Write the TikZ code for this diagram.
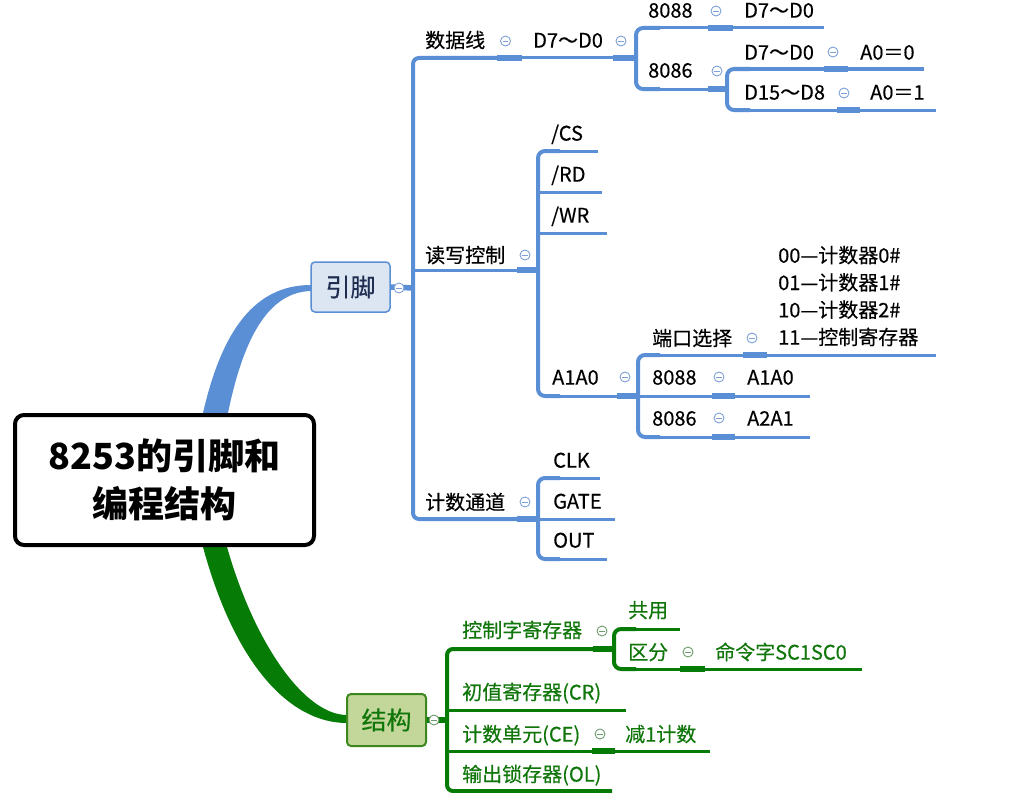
\documentclass[tikz,border=0pt]{standalone}
\usepackage{fontspec}
\newfontfamily\cjk{Noto Sans CJK SC}[FakeBold=0.35]
\newfontfamily\cjkroot{Noto Sans CJK SC}
\definecolor{bl}{RGB}{91,143,213}
\definecolor{btnb}{RGB}{125,160,215}
\definecolor{gr}{RGB}{6,124,6}
\definecolor{grtxt}{RGB}{16,118,10}
\definecolor{btng}{RGB}{110,155,110}
\definecolor{yinfill}{RGB}{220,230,243}
\definecolor{jiefill}{RGB}{196,215,155}
\definecolor{jieborder}{RGB}{60,135,30}
\definecolor{navy}{RGB}{30,45,80}
\tikzset{
  txt/.style={anchor=west, inner sep=0pt, text height=15.2pt, text depth=0pt, font=\cjk\fontsize{20}{24}\selectfont},
  gtxt/.style={txt, text=grtxt},
  ln/.style={bl, line width=3pt},
  thk/.style={bl, line width=5.5pt},
  brk/.style={bl, line width=4pt, rounded corners=7pt},
  gln/.style={gr, line width=3pt},
  gthk/.style={gr, line width=5.5pt},
  gbrk/.style={gr, line width=4pt, rounded corners=7pt},
  btn/.style={circle, draw=#1, fill=white, line width=0.9pt, minimum size=10pt, inner sep=0pt,
    path picture={\draw[#1, line width=0.9pt] ([xshift=-2.6pt]path picture bounding box.center) -- ([xshift=2.6pt]path picture bounding box.center);}},
}
\begin{document}
\begin{tikzpicture}[x=1pt,y=-1pt]
\fill[white] (0,0) rectangle (1014,792);
\useasboundingbox (0,0) rectangle (1014,792);

% main curves
\fill[bl] (199,440) -- (203,413) .. controls (222,330) and (255,285) .. (311,285) -- (311,291) .. controls (272,292) and (245,330) .. (228,413) -- (231,440) -- cycle;
\fill[gr] (201,530) -- (203,547) .. controls (235,665) and (290,723) .. (347,723) -- (347,715) .. controls (305,715) and (255,645) .. (227,547) -- (229,530) -- cycle;

% root
\node[draw=black, line width=4pt, rounded corners=9pt, fill=white, minimum width=299pt, minimum height=130pt,
  align=center, font=\cjkroot\bfseries\fontsize{36}{48}\selectfont] (root) at (164.5,480) {8253的引脚和\\编程结构};

% ---------- 引脚 ----------
\node[draw=bl, line width=1.5pt, fill=yinfill, rounded corners=4pt, minimum width=79pt, minimum height=50pt,
  text=navy, font=\cjk\fontsize{25}{30}\selectfont] (yj) at (350.5,287) {引脚};
\coordinate (sp) at (413,288);
\draw[thk] (yj.east) -- (sp);
\node[btn=btnb] (yjb) at (399,288) {};
\draw[bl, line width=4pt, rounded corners=6pt] (497,58) -- (413,58) -- (413,519) -- (518,519);
\draw[ln] (413,270) -- (517,270);

% 数据线
\node[txt] (sj) at (425,40) {数据线};
\node[btn=btnb] (sjb) at (505.5,41) {};
\draw[thk] (497,58) -- (522,58);
\node[txt] (d70) at (533,40) {D7～D0};
\draw[ln] (522,58) -- (613,58);
\node[btn=btnb] (d70b) at (621,41) {};
\draw[thk] (613,58) -- (637,58);
\draw[brk] (660,28) -- (636,28) -- (636,89) -- (660,89);
\node[txt] (a8088) at (648,10) {8088};
\node[btn=btnb] (a8088b) at (716,11) {};
\draw[ln] (650,28) -- (708,28);
\draw[thk] (708,28) -- (733,28);
\node[txt] (a8088d) at (744,10) {D7～D0};
\draw[ln] (733,28) -- (824,28);
\node[txt] (a8086) at (648,70) {8086};
\node[btn=btnb] (a8086b) at (717,71) {};
\draw[ln] (650,89) -- (708,89);
\draw[thk] (708,89) -- (728,89);
\draw[brk] (750,69) -- (727,69) -- (727,110) -- (750,110);
\node[txt] (d70c) at (744,52) {D7～D0};
\node[btn=btnb] (d70cb) at (833,52) {};
\draw[ln] (740,69) -- (824,69);
\draw[thk] (824,69) -- (848,69);
\node[txt] (a00) at (860,52) {A0＝0};
\draw[ln] (848,69) -- (924,69);
\node[txt] (d158) at (744,92) {D15～D8};
\node[btn=btnb] (d158b) at (844,93) {};
\draw[ln] (740,110) -- (837,110);
\draw[thk] (837,110) -- (860,110);
\node[txt] (a01) at (870,92) {A0＝1};
\draw[ln] (860,110) -- (936,110);

% 读写控制
\node[txt] (dx) at (425,255) {读写控制};
\node[btn=btnb] (dxb) at (525,255) {};
\draw[thk] (517,270) -- (539,270);
\draw[brk] (560,151) -- (538,151) -- (538,396) -- (560,396);
\node[txt] (cs) at (551,133) {/CS};
\draw[ln] (550,151) -- (598,151);
\node[txt] (rd) at (551,174) {/RD};
\draw[ln] (538,192) -- (602,192);
\node[txt] (wr) at (551,215) {/WR};
\draw[ln] (538,233) -- (607,233);
\node[txt] (a1a0) at (552,377) {A1A0};
\node[btn=btnb] (a1a0b) at (625,377) {};
\draw[ln] (550,396) -- (617,396);
\draw[thk] (617,396) -- (639,396);
\draw[brk] (660,355) -- (638,355) -- (638,437) -- (660,437);
\node[txt] (dk) at (652,338) {端口选择};
\node[btn=btnb] (dkb) at (752,338) {};
\draw[ln] (650,355) -- (743,355);
\draw[thk] (743,355) -- (767,355);
\node[anchor=base west, inner sep=0pt, align=left, font=\cjk\fontsize{20}{27.3}\selectfont] (sel) at (778,344.6)
  {00—计数器0\#\\01—计数器1\#\\10—计数器2\#\\11—控制寄存器};
\draw[ln] (767,355) -- (936,355);
\node[txt] (b8088) at (652,377) {8088};
\node[btn=btnb] (b8088b) at (719,377) {};
\draw[ln] (638,396) -- (712,396);
\draw[thk] (712,396) -- (735,396);
\node[txt] (b8088d) at (747,377) {A1A0};
\draw[ln] (735,396) -- (810,396);
\node[txt] (b8086) at (652,418) {8086};
\node[btn=btnb] (b8086b) at (719,418) {};
\draw[ln] (650,437) -- (712,437);
\draw[thk] (712,437) -- (735,437);
\node[txt] (b8086d) at (747,418) {A2A1};
\draw[ln] (735,437) -- (810,437);

% 计数通道
\node[txt] (jt) at (425,502) {计数通道};
\node[btn=btnb] (jtb) at (525,502) {};
\draw[thk] (517,519) -- (539,519);
\draw[brk] (560,478) -- (538,478) -- (538,559) -- (560,559);
\node[txt] (clk) at (553,460) {CLK};
\draw[ln] (550,478) -- (600,478);
\node[txt] (gate) at (553,501) {GATE};
\draw[ln] (538,519) -- (615,519);
\node[txt] (out) at (553,540) {OUT};
\draw[ln] (550,559) -- (607,559);

% ---------- 结构 ----------
\node[draw=jieborder, line width=2pt, fill=jiefill, rounded corners=4pt, minimum width=79pt, minimum height=52pt,
  text=grtxt, font=\cjk\fontsize{25}{30}\selectfont] (jg) at (386.5,720) {结构};
\coordinate (gsp) at (447,720);
\draw[gthk] (jg.east) -- (gsp);
\node[btn=btng] (jgb) at (434,720) {};
\draw[gr, line width=4pt, rounded corners=6pt] (593,649) -- (447,649) -- (447,791) -- (612,791);
\draw[gln] (447,710) -- (626,710);
\draw[gln] (447,751) -- (592,751);

\node[gtxt] (kz) at (462,630) {控制字寄存器};
\node[btn=btng] (kzb) at (602,631) {};
\draw[gthk] (593,649) -- (615,649);
\draw[gbrk] (636,629) -- (614,629) -- (614,669) -- (636,669);
\node[gtxt] (gy) at (628,610) {共用};
\draw[gln] (625,629) -- (680,629);
\node[gtxt] (qf) at (628,652) {区分};
\node[btn=btng] (qfb) at (688,652) {};
\draw[gln] (625,669) -- (680,669);
\draw[gthk] (680,669) -- (705,669);
\node[gtxt] (ml) at (715,652) {命令字SC1SC0};
\draw[gln] (705,669) -- (862,669);
\node[gtxt] (cz) at (462,692) {初值寄存器(CR)};
\node[gtxt] (js) at (462,734) {计数单元(CE)};
\node[btn=btng] (jsb) at (600,734) {};
\draw[gthk] (592,751) -- (615,751);
\node[gtxt] (j1) at (625,734) {减1计数};
\draw[gln] (615,751) -- (710,751);
\node[gtxt] (sc) at (462,774) {输出锁存器(OL)};
\end{tikzpicture}
\end{document}
